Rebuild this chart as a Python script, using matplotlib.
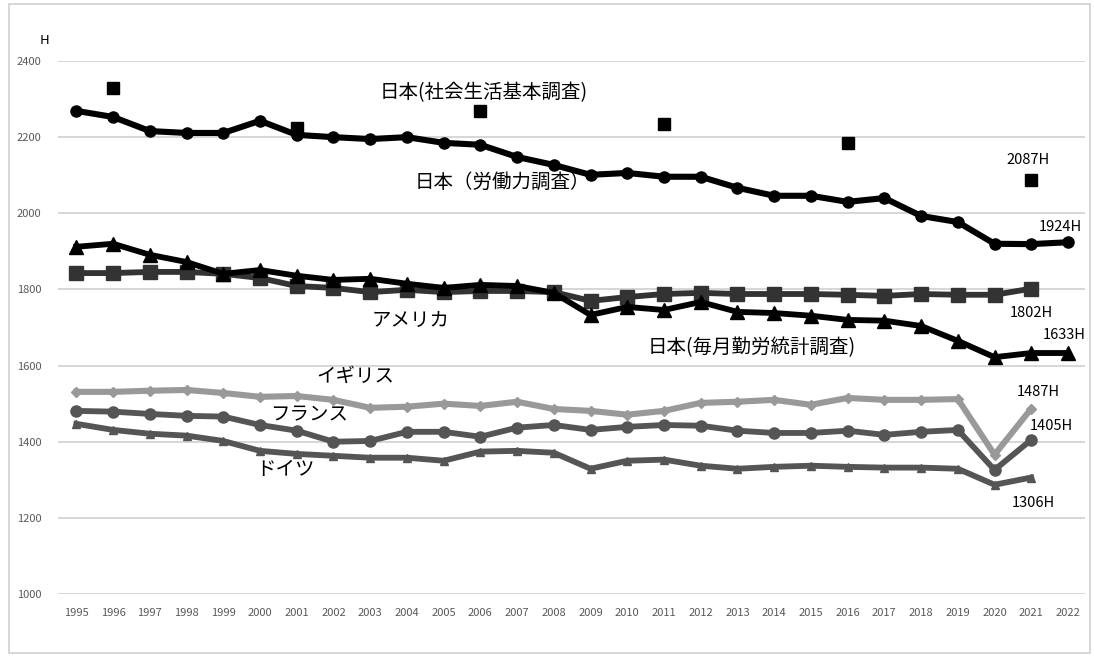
import matplotlib
matplotlib.use("Agg")
import matplotlib.pyplot as plt
from matplotlib.patches import Rectangle

plt.rcParams['font.family'] = ['Noto Sans CJK JP', 'DejaVu Sans']

years = list(range(1995, 2023))

japan_lfs = [2269, 2253, 2216, 2211, 2211, 2243, 2206, 2200, 2195, 2200,
             2185, 2180, 2148, 2127, 2101, 2106, 2096, 2096, 2067, 2046,
             2046, 2030, 2040, 1993, 1977, 1920, 1919, 1924]

survey_years = [1996, 2001, 2006, 2011, 2016, 2021]
japan_sts = [2329, 2224, 2269, 2235, 2185, 2087]

japan_mls = [1912, 1920, 1891, 1872, 1841, 1851, 1836, 1825, 1828, 1815,
             1804, 1812, 1809, 1791, 1733, 1754, 1746, 1767, 1741, 1738,
             1731, 1720, 1718, 1704, 1665, 1622, 1633, 1633]

years_intl = list(range(1995, 2022))
usa = [1843, 1843, 1846, 1846, 1841, 1830, 1809, 1804, 1793, 1799,
       1793, 1796, 1796, 1793, 1770, 1780, 1788, 1791, 1788, 1788,
       1788, 1786, 1783, 1788, 1786, 1786, 1802]
uk = [1531, 1531, 1534, 1536, 1528, 1518, 1520, 1510, 1489, 1492,
      1500, 1494, 1505, 1486, 1481, 1471, 1481, 1502, 1505, 1510,
      1497, 1515, 1510, 1510, 1512, 1366, 1487]
france = [1481, 1479, 1473, 1468, 1466, 1444, 1429, 1400, 1402, 1426,
          1426, 1413, 1437, 1444, 1431, 1439, 1444, 1442, 1429, 1423,
          1423, 1429, 1418, 1426, 1431, 1326, 1405]
germany = [1447, 1431, 1421, 1416, 1402, 1376, 1368, 1363, 1358, 1358,
           1350, 1374, 1376, 1371, 1329, 1350, 1353, 1337, 1329, 1334,
           1337, 1334, 1332, 1332, 1329, 1287, 1306]

yticks = [1000, 1200, 1400, 1600, 1800, 2000, 2200, 2400]

fig = plt.figure(figsize=(10.94, 6.56), dpi=100)
fig.patches.append(Rectangle((0.008, 0.004), 0.988, 0.99, transform=fig.transFigure,
                             fill=False, edgecolor='#d0d0d0', linewidth=1.2))
ax = fig.add_axes([0.053, 0.0945, 0.939, 0.8125])

ax.plot(years_intl, germany, color='#555555', lw=4.2, marker='^', ms=6, zorder=3)
ax.plot(years_intl, france, color='#555555', lw=4.2, marker='o', ms=8, zorder=3)
ax.plot(years_intl, uk, color='#999999', lw=4.4, marker='D', ms=5, zorder=3)
ax.plot(years_intl, usa, color='#333333', lw=4.2, marker='s', ms=10, zorder=3)
ax.plot(years, japan_mls, color='#000000', lw=4.2, marker='^', ms=10, zorder=4)
ax.plot(years, japan_lfs, color='#000000', lw=4.4, marker='o', ms=8, zorder=5)
ax.plot(survey_years, japan_sts, color='#000000', ls='none', marker='s', ms=8, zorder=5)

for ln in ax.lines:
    ln.set_clip_on(False)

ax.set_xlim(1994.5, 2022.47)
ax.set_ylim(1000, 2400)
ax.set_xticks(years)
ax.set_xticklabels([str(y) for y in years])
ax.set_yticks(yticks)
ax.set_yticklabels([str(v) for v in yticks])
ax.grid(axis='y', color='#d0d0d0', lw=1.2, zorder=0)
ax.set_axisbelow(True)
ax.tick_params(axis='both', length=0, colors='#595959', labelsize=8)
ax.tick_params(axis='x', pad=10)
ax.tick_params(axis='y', pad=12)
for s in ax.spines.values():
    s.set_visible(False)

ax.text(-0.013, 1.039, 'H', transform=ax.transAxes, ha='center', va='center',
        fontsize=9.5, color='#000000')

lab = dict(fontsize=14, color='#000000', ha='center', va='center')
ax.text(2006.1, 2317, '日本(社会生活基本調査)', **lab)
ax.text(2006.6, 2082, '日本（労働力調査）', **lab)
ax.text(2004.1, 1718, 'アメリカ', **lab)
ax.text(2013.4, 1648, '日本(毎月勤労統計調査)', **lab)
ax.text(2002.6, 1573, 'イギリス', **lab)
ax.text(2001.35, 1471, 'フランス', **lab)
ax.text(2000.7, 1326, 'ドイツ', **lab)

val = dict(fontsize=10.5, color='#000000', ha='center', va='center')
ax.text(2020.9, 2140, f'{japan_sts[-1]}H', **val)
ax.text(2021.78, 1964, f'{japan_lfs[-1]}H', **val)
ax.text(2021.0, 1739, f'{usa[-1]}H', **val)
ax.text(2021.9, 1681, f'{japan_mls[-1]}H', **val)
ax.text(2021.2, 1531, f'{uk[-1]}H', **val)
ax.text(2021.55, 1442, f'{france[-1]}H', **val)
ax.text(2021.05, 1240, f'{germany[-1]}H', **val)

fig.savefig('out.png', dpi=100)
